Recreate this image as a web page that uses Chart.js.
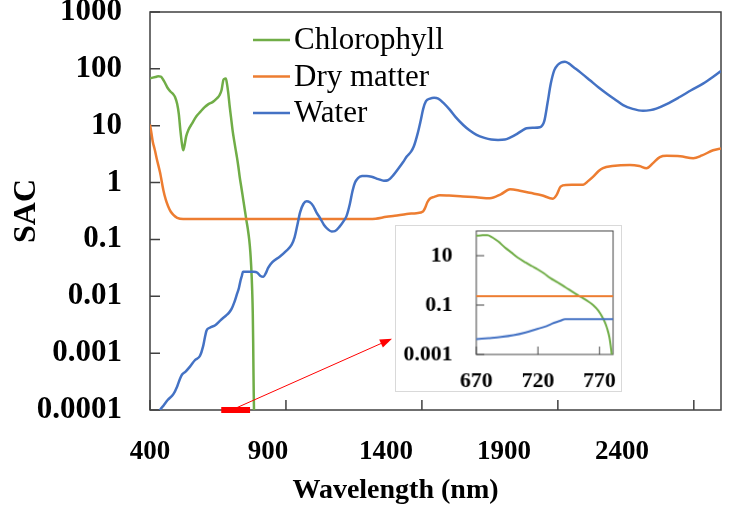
<!DOCTYPE html>
<html>
<head>
<meta charset="utf-8">
<title>SAC</title>
<script src="https://cdn.jsdelivr.net/npm/chart.js@4.4.1/dist/chart.umd.min.js"></script>
<style>
  html, body { margin: 0; padding: 0; background: #fff; }
  #wrap { position: relative; width: 729px; height: 515px; }
  #mainChart { position: absolute; left: 0; top: 0; }
  #insetChart { position: absolute; left: 395px; top: 225px; border: 1.5px solid #d9d9d9; background: #fff; }
</style>
</head>
<body>
<div id="wrap">
  <canvas id="mainChart" width="729" height="515"></canvas>
  <canvas id="insetChart" width="227" height="167"></canvas>
</div>
<script>
// series (wavelength in nm, specific absorption coefficient)
const chlWave = [400, 410, 420, 430, 440, 448, 455, 465, 475, 485, 492, 500, 506, 512, 517, 522, 527, 533, 541, 555,
  570, 585, 600, 615, 630, 645, 655, 663, 670, 675, 679, 683, 688, 693, 698, 704, 710, 715, 720, 725,
  730, 735, 740, 745, 750, 755, 760, 765, 769, 772, 774, 776, 778, 779.5, 780.5, 781.5, 782.5];
const chlValues = [68, 70, 72, 74, 73, 65, 57, 46, 40, 36, 32, 24, 16, 8, 5, 3.7, 4.5, 6.5, 8.4, 11,
  14.5, 17.5, 21, 24, 26, 30, 34, 42, 64, 67, 68, 55, 37, 22, 14, 8.1, 5.3, 3.8, 2.75, 1.9,
  1.25, 0.88, 0.62, 0.43, 0.3, 0.21, 0.15, 0.098, 0.06, 0.035, 0.022, 0.012, 0.005, 0.0015, 0.0005, 0.0002, 0.0001];

const dryWave = [400, 405, 410, 418, 425, 437, 449, 458, 467, 476, 486, 500, 522, 800, 1209, 1230, 1270, 1300, 1344, 1380,
  1404, 1412, 1420, 1429, 1445, 1466, 1500, 1551, 1600, 1650, 1690, 1724, 1760, 1797, 1840, 1882, 1895, 1910, 1930, 1993,
  2010, 2030, 2050, 2066, 2100, 2165, 2200, 2226, 2250, 2275, 2300, 2350, 2398, 2430, 2471, 2500];
const dryValues = [10.5, 7.5, 5.3, 3.7, 2.6, 1.5, 0.74, 0.5, 0.38, 0.31, 0.27, 0.24, 0.228, 0.228, 0.228, 0.232, 0.25, 0.26, 0.28, 0.29,
  0.31, 0.36, 0.45, 0.52, 0.56, 0.6, 0.59, 0.57, 0.55, 0.53, 0.62, 0.76, 0.72, 0.66, 0.6, 0.52, 0.6, 0.85, 0.91, 0.92,
  1.05, 1.27, 1.6, 1.8, 1.95, 2.04, 1.95, 1.79, 2.2, 2.8, 2.95, 2.9, 2.68, 3.0, 3.7, 4.0];

const waterWave = [420, 437, 450, 465, 486, 500, 510, 518, 530, 547, 565, 584, 595, 602, 608, 620, 640, 657, 670, 680,
  690, 700, 710, 720, 727, 733, 738, 742, 750, 770, 781, 795, 805, 817, 825, 835, 850, 878, 900, 921,
  932, 942, 952, 964, 976, 988, 1000, 1012, 1025, 1040, 1055, 1068, 1080, 1098, 1112, 1123, 1135, 1145, 1154, 1165,
  1180, 1197, 1215, 1240, 1260, 1275, 1295, 1315, 1331, 1345, 1360, 1370, 1385, 1395, 1405, 1415, 1430, 1445, 1460, 1480,
  1503, 1525, 1552, 1575, 1601, 1630, 1655, 1680, 1705, 1724, 1750, 1770, 1785, 1810, 1834, 1850, 1862, 1874, 1887, 1900,
  1913, 1926, 1940, 1957, 1985, 2018, 2050, 2079, 2110, 2140, 2175, 2213, 2240, 2262, 2300, 2348, 2390, 2434, 2470, 2500];
const waterValues = [0.00006, 0.0001, 0.00012, 0.00015, 0.00019, 0.00026, 0.00035, 0.00042, 0.00047, 0.00058, 0.00075, 0.0009, 0.0013, 0.0019, 0.0025, 0.0028, 0.0031, 0.0037, 0.0042, 0.0046,
  0.0051, 0.006, 0.0078, 0.011, 0.014, 0.019, 0.023, 0.027, 0.027, 0.027, 0.027, 0.026, 0.023, 0.022, 0.025, 0.032, 0.04, 0.05, 0.062, 0.081,
  0.11, 0.18, 0.3, 0.42, 0.47, 0.45, 0.39, 0.3, 0.24, 0.18, 0.15, 0.138, 0.14, 0.17, 0.21, 0.26, 0.42, 0.72, 1.0, 1.2,
  1.3, 1.31, 1.27, 1.15, 1.08, 1.1, 1.35, 1.8, 2.3, 2.9, 3.5, 4.3, 7.5, 12, 20, 27, 30, 31, 30, 25,
  19, 14, 10.3, 8.3, 6.9, 6.1, 5.7, 5.6, 5.7, 6.2, 7.2, 8.3, 9, 9.2, 9.4, 12, 25, 55, 95, 118,
  130, 133, 125, 108, 85, 63, 47, 37, 29, 23, 19.8, 18.3, 18.8, 20, 24, 32, 42, 55, 72, 92];

const seriesNames = ['Chlorophyll', 'Dry matter', 'Water'];
const seriesColors = ['#70AD47', '#ED7D31', '#4472C4'];

// main axes
const xTickValues = [400, 900, 1400, 1900, 2400];
const xTickLabels = ['400', '900', '1400', '1900', '2400'];
const yTickValues = [0.0001, 0.001, 0.01, 0.1, 1, 10, 100, 1000];
const yTickLabels = ['0.0001', '0.001', '0.01', '0.1', '1', '10', '100', '1000'];

// zoomed range marked in red and shown in the inset
const zoomRange = [662, 768];
const arrowFrom = [700, 0.0001];
const arrowTo = [1290, 0.0018];

// inset axes
const insetXTickValues = [670, 720, 770];
const insetXTickLabels = ['670', '720', '770'];
const insetYTickValues = [0.001, 0.1, 10];
const insetYTickLabels = ['0.001', '0.1', '10'];

Chart.defaults.font.family = '"Liberation Serif", "Times New Roman", serif';
Chart.defaults.color = '#000';

const toPoints = (xs, ys) => xs.map((x, i) => ({ x: x, y: ys[i] }));
const setTicks = values => scale => { scale.ticks = values.map(v => ({ value: v })); };

function makeSeries(width) {
  return [
    toPoints(chlWave, chlValues),
    toPoints(dryWave, dryValues),
    toPoints(waterWave, waterValues)
  ].map((pts, i) => ({
    label: seriesNames[i],
    data: pts,
    borderColor: seriesColors[i],
    borderWidth: width,
    pointRadius: 0,
    cubicInterpolationMode: 'monotone',
    order: 3 - i
  }));
}

// box around the plot area with short inward tick marks
function axisFrame(tickLen, lw) {
  return {
    id: 'axisFrame',
    beforeDatasetsDraw(chart) {
      const { ctx, chartArea: a, scales } = chart;
      ctx.save();
      ctx.strokeStyle = '#404040';
      ctx.lineWidth = lw;
      ctx.strokeRect(a.left, a.top, a.right - a.left, a.bottom - a.top);
      ctx.beginPath();
      scales.x.ticks.forEach(t => {
        const px = scales.x.getPixelForValue(t.value);
        ctx.moveTo(px, a.bottom);
        ctx.lineTo(px, a.bottom - tickLen);
      });
      scales.y.ticks.forEach(t => {
        const py = scales.y.getPixelForValue(t.value);
        ctx.moveTo(a.left, py);
        ctx.lineTo(a.left + tickLen, py);
      });
      ctx.stroke();
      ctx.restore();
    }
  };
}

const legendBox = {
  id: 'legendBox',
  afterDraw(chart) {
    const { ctx, chartArea: a } = chart;
    ctx.save();
    ctx.font = '31px "Liberation Serif"';
    ctx.textBaseline = 'middle';
    ctx.fillStyle = '#000';
    seriesNames.forEach((name, i) => {
      const x = a.left + 103;
      const y = a.top + 28 + i * 36.5;
      ctx.strokeStyle = seriesColors[i];
      ctx.lineWidth = 2.5;
      ctx.beginPath();
      ctx.moveTo(x, y);
      ctx.lineTo(x + 37, y);
      ctx.stroke();
      ctx.fillText(name, x + 41, y + 1);
    });
    ctx.restore();
  }
};

const zoomArrow = {
  id: 'zoomArrow',
  afterDatasetsDraw(chart) {
    const { ctx, scales: { x, y } } = chart;
    const x0 = x.getPixelForValue(arrowFrom[0]), y0 = y.getPixelForValue(arrowFrom[1]);
    const x1 = x.getPixelForValue(arrowTo[0]), y1 = y.getPixelForValue(arrowTo[1]);
    const ang = Math.atan2(y1 - y0, x1 - x0);
    ctx.save();
    ctx.strokeStyle = '#ff0000';
    ctx.fillStyle = '#ff0000';
    ctx.lineWidth = 1;
    ctx.beginPath();
    ctx.moveTo(x0, y0);
    ctx.lineTo(x1 - 10 * Math.cos(ang), y1 - 10 * Math.sin(ang));
    ctx.stroke();
    ctx.beginPath();
    ctx.moveTo(x1, y1);
    ctx.lineTo(x1 - 12 * Math.cos(ang) + 4.5 * Math.sin(ang), y1 - 12 * Math.sin(ang) - 4.5 * Math.cos(ang));
    ctx.lineTo(x1 - 12 * Math.cos(ang) - 4.5 * Math.sin(ang), y1 - 12 * Math.sin(ang) + 4.5 * Math.cos(ang));
    ctx.closePath();
    ctx.fill();
    ctx.restore();
  }
};

const xTitle = {
  id: 'xTitle',
  afterDraw(chart) {
    const { ctx, chartArea: a } = chart;
    ctx.save();
    ctx.font = 'bold 28px "Liberation Serif"';
    ctx.textAlign = 'center';
    ctx.textBaseline = 'middle';
    ctx.fillStyle = '#000';
    ctx.fillText('Wavelength (nm)', (a.left + a.right) / 2 - 40, 491);
    ctx.restore();
  }
};

const mainDatasets = makeSeries(2.5);
mainDatasets.push({
  label: 'zoom',
  data: toPoints(zoomRange, [0.0001, 0.0001]),
  borderColor: '#ff0000',
  borderWidth: 6,
  pointRadius: 0,
  clip: false,
  order: 0
});

new Chart(document.getElementById('mainChart'), {
  type: 'line',
  data: { datasets: mainDatasets },
  options: {
    responsive: false,
    animation: false,
    devicePixelRatio: 1,
    layout: { padding: { top: 12, right: 8, left: 0, bottom: 0 } },
    plugins: { legend: { display: false }, tooltip: { enabled: false } },
    scales: {
      x: {
        type: 'linear', display: false, min: 400, max: 2500,
        afterBuildTicks: setTicks(xTickValues)
      },
      // label row: evenly spaced labels as printed under the original figure
      xLabels: {
        type: 'linear', position: 'bottom', min: 400, max: 2820,
        afterBuildTicks: setTicks(xTickValues),
        grid: { display: false, drawTicks: false },
        border: { display: false },
        ticks: {
          padding: 26, maxRotation: 0,
          font: { size: 27, weight: 'bold' },
          callback: (v, i) => xTickLabels[i]
        },
        afterFit: s => { s.height = 105; s.paddingLeft = 0; s.paddingRight = 0; }
      },
      y: {
        type: 'logarithmic', min: 0.0001, max: 1000,
        afterBuildTicks: setTicks(yTickValues),
        grid: { display: false, drawTicks: false },
        border: { display: false },
        ticks: {
          padding: 28,
          font: { size: 31, weight: 'bold' },
          callback: (v, i) => yTickLabels[i]
        },
        title: { display: true, text: 'SAC', font: { size: 32, weight: 'bold' }, padding: { top: 8, bottom: 0 } },
        afterFit: s => { s.width = 150; s.paddingTop = 0; s.paddingBottom = 0; }
      }
    }
  },
  plugins: [axisFrame(10, 1.5), zoomArrow, legendBox, xTitle]
});

new Chart(document.getElementById('insetChart'), {
  type: 'line',
  data: { datasets: makeSeries(2) },
  options: {
    responsive: false,
    animation: false,
    devicePixelRatio: 1,
    layout: { padding: { top: 5, right: 8, left: 0, bottom: 0 } },
    plugins: { legend: { display: false }, tooltip: { enabled: false } },
    scales: {
      x: {
        type: 'linear', min: 670, max: 781,
        afterBuildTicks: setTicks(insetXTickValues),
        grid: { display: false, drawTicks: false },
        border: { display: false },
        ticks: {
          padding: 14, maxRotation: 0,
          font: { size: 22, weight: 'bold' },
          callback: (v, i) => insetXTickLabels[i]
        },
        afterFit: s => { s.height = 37; s.paddingLeft = 0; s.paddingRight = 0; }
      },
      y: {
        type: 'logarithmic', min: 0.001, max: 100,
        afterBuildTicks: setTicks(insetYTickValues),
        grid: { display: false, drawTicks: false },
        border: { display: false },
        ticks: {
          padding: 24,
          font: { size: 22, weight: 'bold' },
          callback: (v, i) => insetYTickLabels[i]
        },
        afterFit: s => { s.width = 81; s.paddingTop = 0; s.paddingBottom = 0; }
      }
    }
  },
  plugins: [axisFrame(8, 1)]
});
</script>
</body>
</html>
